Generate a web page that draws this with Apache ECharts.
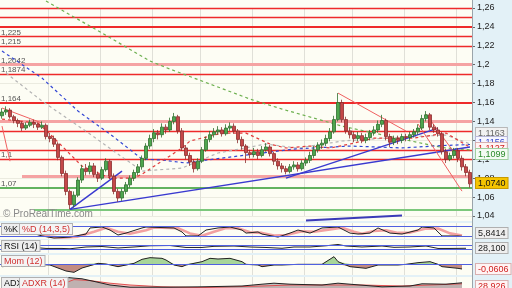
<!DOCTYPE html>
<html><head><meta charset="utf-8">
<script src="https://cdn.jsdelivr.net/npm/echarts@6/dist/echarts.min.js"></script>
<style>html,body{margin:0;padding:0;background:#e3f1f7}#c{width:512px;height:288px}</style>
</head><body><div id="c"></div>
<script>
// ---- price candles (one per bar) ----
const opens=[1.146,1.150,1.152,1.145,1.141,1.138,1.133,1.136,1.139,1.137,
1.134,1.136,1.124,1.122,1.116,1.102,1.085,1.066,1.052,1.062,
1.078,1.090,1.087,1.093,1.084,1.080,1.089,1.098,1.082,1.066,
1.059,1.066,1.073,1.080,1.086,1.092,1.101,1.114,1.122,1.128,
1.126,1.134,1.131,1.140,1.145,1.130,1.112,1.104,1.097,1.090,
1.098,1.110,1.121,1.126,1.129,1.131,1.127,1.133,1.135,1.130,
1.121,1.114,1.107,1.105,1.108,1.104,1.110,1.113,1.106,1.098,
1.093,1.090,1.087,1.092,1.094,1.090,1.096,1.099,1.104,1.110,
1.115,1.117,1.122,1.129,1.142,1.160,1.142,1.130,1.126,1.122,
1.125,1.120,1.123,1.128,1.131,1.137,1.141,1.124,1.118,1.122,
1.120,1.124,1.123,1.126,1.129,1.133,1.143,1.147,1.134,1.131,
1.127,1.108,1.100,1.104,1.109,1.101,1.092,1.086];
const closes=[1.150,1.152,1.145,1.141,1.138,1.133,1.136,1.139,1.137,1.134,
1.136,1.124,1.122,1.116,1.102,1.085,1.066,1.052,1.062,1.078,
1.090,1.087,1.093,1.084,1.080,1.089,1.098,1.082,1.066,1.059,
1.066,1.073,1.080,1.086,1.092,1.101,1.114,1.122,1.128,1.126,
1.134,1.131,1.140,1.145,1.130,1.112,1.104,1.097,1.090,1.098,
1.110,1.121,1.126,1.129,1.131,1.127,1.133,1.135,1.130,1.121,
1.114,1.107,1.105,1.108,1.104,1.110,1.113,1.106,1.098,1.093,
1.090,1.087,1.092,1.094,1.090,1.096,1.099,1.104,1.110,1.115,
1.117,1.122,1.129,1.142,1.160,1.142,1.130,1.126,1.122,1.125,
1.120,1.123,1.128,1.131,1.137,1.141,1.124,1.118,1.122,1.120,
1.124,1.123,1.126,1.129,1.133,1.143,1.147,1.134,1.131,1.127,
1.108,1.100,1.104,1.109,1.101,1.092,1.086,1.074];
const lows=[1.143,1.147,1.143,1.138,1.134,1.130,1.131,1.134,1.133,1.131,
1.132,1.121,1.118,1.113,1.099,1.082,1.062,1.047,1.049,1.060,
1.075,1.083,1.084,1.081,1.076,1.078,1.087,1.079,1.063,1.055,
1.056,1.063,1.070,1.077,1.083,1.089,1.099,1.111,1.118,1.121,
1.123,1.127,1.129,1.137,1.127,1.109,1.100,1.093,1.086,1.088,
1.096,1.108,1.118,1.123,1.126,1.124,1.125,1.130,1.127,1.117,
1.110,1.096,1.101,1.102,1.100,1.102,1.108,1.103,1.094,1.089,
1.086,1.084,1.085,1.089,1.087,1.088,1.093,1.096,1.101,1.107,
1.111,1.114,1.119,1.127,1.140,1.139,1.127,1.122,1.118,1.119,
1.117,1.117,1.120,1.125,1.128,1.134,1.120,1.113,1.115,1.116,
1.117,1.119,1.120,1.123,1.126,1.131,1.140,1.131,1.128,1.124,
1.105,1.096,1.098,1.101,1.097,1.088,1.082,1.070];
const highs=[1.154,1.156,1.154,1.147,1.143,1.140,1.139,1.142,1.142,1.139,
1.140,1.138,1.128,1.125,1.118,1.104,1.088,1.068,1.066,1.081,
1.094,1.095,1.097,1.096,1.087,1.092,1.101,1.100,1.085,1.069,
1.069,1.076,1.083,1.089,1.095,1.104,1.117,1.126,1.132,1.131,
1.138,1.137,1.144,1.149,1.147,1.133,1.115,1.107,1.100,1.101,
1.113,1.124,1.130,1.133,1.135,1.134,1.137,1.139,1.138,1.132,
1.124,1.116,1.110,1.112,1.111,1.114,1.117,1.115,1.108,1.101,
1.096,1.093,1.095,1.098,1.097,1.099,1.102,1.108,1.114,1.118,
1.121,1.126,1.133,1.146,1.170,1.163,1.145,1.133,1.129,1.129,
1.128,1.127,1.131,1.135,1.141,1.147,1.143,1.127,1.125,1.125,
1.127,1.127,1.129,1.132,1.137,1.147,1.151,1.149,1.137,1.134,
1.129,1.111,1.107,1.112,1.112,1.104,1.095,1.089];

// ---- moving averages [barIndex, price] ----
const maGreen=[[10.75,1.2674],[24.5,1.2335],[37,1.2039],[42,1.1954],[62,1.1637],[69.5,1.1531],[84.5,1.1351],[99.5,1.1213],[109.5,1.1125],[117,1.1099]];
const maBlue=[[0,1.2145],[9.5,1.1859],[18.75,1.151],[27,1.1267],[35.25,1.1002],[39.5,1.0992],[46.25,1.096],[52.75,1.1002],[62.75,1.1055],[72.75,1.1108],[87,1.114],[100,1.112],[110,1.1145],[117,1.1156]];
const maGray=[[1.25,1.1912],[10.25,1.1616],[22,1.1267],[28.75,1.1055],[34.5,1.0875],[44.5,1.0907],[53.75,1.1066],[66.25,1.1161],[73.75,1.1118],[84.5,1.1193],[99.5,1.1235],[110.75,1.1256],[117,1.1163]];
const maRed=[[0,1.1425],[8.75,1.1383],[12,1.1267],[19.5,1.0928],[27,1.0801],[32.75,1.0801],[35.25,1.0843],[44.5,1.1119],[47,1.1193],[54.5,1.1277],[61.25,1.1277],[67,1.1161],[71.25,1.1119],[77,1.114],[82,1.1119],[87,1.1161],[93.25,1.1224],[103.25,1.1224],[110.75,1.1277],[117,1.1127]];

// ---- drawn trend lines ----
const trendBlue=[[[17,1.047],[117.4,1.113]],[[17,1.047],[29.5,1.0875]],[[70.75,1.0801],[108.75,1.133]]];
const trendBlueLow=[[76,1.0352],[99.5,1.0405]];
const trendRed=[[[0.25,1.1542],[9.5,1.1383]],[[0,1.1351],[2,1.098]],[[84,1.17],[101.25,1.1298]],[[105.75,1.1478],[117,1.0843]],[[104,1.1373],[115.25,1.0663]]];

// ---- horizontal levels ----
const redLevels=[1.26,1.2505,1.2357,1.225,1.215,1.1874,1.164,1.1256,1.1087,1.0992];
const pinkLevels=[1.2042,1.1415];
const pinkPartial=[[5,1.0822]];
const greenLevels=[1.0695];
const greenPartial=[[8,1.0463]];
const levelLabels={'1.225':'1,225','1.215':'1,215','1.2042':'1,2042','1.1874':'1,1874','1.164':'1,164','1.0992':'1,1','1.0695':'1,07'};

// ---- indicators [barIndex, value] ----
const stochK=[[0,44],[4.5,56],[10.25,19],[13.25,6],[17,12],[20.75,31],[22,69],[24.5,75],[27,56],[29,25],[31.25,37],[34.5,69],[36.25,75],[42.75,69],[44.5,44],[46.25,19],[48.75,19],[51.25,56],[53.75,69],[57,75],[59.5,56],[61.25,37],[63.5,44],[65.25,31],[68.5,12],[71.75,37],[74.25,56],[76.75,37],[80.25,69],[83.5,75],[86.75,37],[88.5,31],[91.75,37],[94.25,69],[96.75,37],[100.25,31],[103.5,56],[105.25,75],[107.75,69],[110.25,19],[113.5,19],[115.25,17]];
const stochD=[[0,42],[5.75,50],[12,15],[15,8],[19,15],[22.5,45],[25.75,70],[29,45],[31.5,33],[35.75,55],[38.25,72],[44,68],[46.5,35],[49.5,20],[52.5,45],[55.75,68],[59,68],[62,42],[65,38],[67.5,22],[70.75,25],[74.5,48],[77.5,45],[81.5,60],[84.5,70],[87.5,45],[90,33],[93.25,50],[95.75,55],[99,38],[102,40],[105.75,65],[108.75,66],[111.5,35],[115.25,22]];
const rsi=[[0,54],[4.5,60],[8.25,48],[10.75,36],[14.5,36],[17,32],[20.75,54],[24.5,60],[29,42],[33.25,54],[37,69],[42,72],[45.75,48],[49.5,48],[53.25,62],[58.25,66],[62,54],[65.75,48],[69.5,38],[73.25,54],[77,54],[80.75,69],[83.5,85],[85.75,66],[89.5,54],[94.5,66],[98.25,50],[102,54],[105.75,66],[109,36],[112,36],[115.75,38]];
const mom=[[0,-0.032],[7.75,-0.004],[12,-0.012],[16.25,-0.084],[17.75,-0.1],[20.25,-0.048],[23.75,0.008],[26.25,0],[28.75,-0.032],[32.75,0.008],[35.25,0.056],[37,0.076],[39.5,0.068],[41.25,0.048],[42.75,-0.012],[44.5,-0.032],[46.25,-0.012],[49.5,0.028],[52,0.068],[53.75,0.06],[57,0.068],[59.5,0.028],[61.25,-0.004],[63.5,-0.012],[65.25,-0.032],[67.75,-0.012],[70.25,-0.012],[73.5,-0.004],[76.75,-0.004],[80.25,-0.004],[82.75,0.088],[84.25,0.028],[86.75,-0.032],[91,-0.052],[93.5,-0.012],[98.5,-0.012],[101,-0.004],[103.5,0.016],[106.75,0.028],[108.5,-0.004],[110.25,-0.032],[113.5,-0.052],[115.25,-0.06]];
const adx=[[9.5,10],[13.25,28],[16.25,53],[19.5,46],[23.25,33],[27,15],[31.5,4],[42,4],[49.5,6],[59.5,10],[64.5,19],[68.25,24],[72,19],[79.5,15],[83.5,24],[87,19],[94.5,6],[102,10],[105.25,21],[110.75,19],[115.25,26]];
const adxr=[[9.5,6],[14.5,19],[18.25,42],[22,37],[27,24],[32,15],[39.5,6],[49.5,2],[64.5,10],[72,15],[82,15],[89.5,15],[99.5,10],[107,15],[115.25,21]];

const priceTicks={min:1.04,max:1.26,step:0.02};
const gridLineIdx=[12,25,38,50,63,76,88,101,114];

const FONT='Liberation Sans, Arial, sans-serif';
const cats=closes.map((_,i)=>String(i));
const candles=closes.map((c,i)=>[opens[i],c,lows[i],highs[i]]);
const momPos=mom.map(p=>[p[0],Math.max(p[1],0)]);
const momNeg=mom.map(p=>[p[0],Math.min(p[1],0)]);
const fmt=v=>v.toFixed(2).replace('.',',').replace(/0$/,'');

const chart=echarts.init(document.getElementById('c'));
const grids=[
  {left:0,right:40,top:8,height:208},
  {left:0,right:40,top:223,height:16},
  {left:0,right:40,top:240,height:13},
  {left:0,right:40,top:255,height:20},
  {left:0,right:40,top:277,height:11}
];
const xAxes=grids.map((g,k)=>({type:'category',gridIndex:k,data:cats,boundaryGap:true,
  axisLine:{show:false},axisTick:{show:false},axisLabel:{show:false},
  splitLine:{show:true,interval:(i)=>gridLineIdx.includes(i),lineStyle:{color:'#e0e0d8',width:1}}}));
const subY=(k,min,max)=>({type:'value',gridIndex:k,position:'right',min:min,max:max,
  axisLine:{show:false},axisTick:{show:false},axisLabel:{show:false},splitLine:{show:false}});
const yAxes=[
  {type:'value',gridIndex:0,position:'right',min:priceTicks.min,max:priceTicks.max,interval:priceTicks.step,
   axisLine:{show:false},axisTick:{show:true,length:3,lineStyle:{color:'#666'}},
   axisLabel:{fontSize:9,color:'#222',margin:5,fontFamily:FONT,formatter:fmt},
   splitLine:{show:true,lineStyle:{color:'#ebebe0'}}},
  subY(1,0,100),subY(2,-20,140),subY(3,-0.132,0.108),subY(4,0,55)
];

const lvlLabel=v=>{const t=levelLabels[String(v)];return t?{show:true,formatter:t,position:'insideStartTop',distance:[1,0],fontSize:8,color:'#555',fontFamily:FONT}:{show:false};};
const markData=[];
redLevels.forEach(v=>markData.push({yAxis:v,lineStyle:{color:'#ee2a2a',width:(v===1.164||v===1.2357)?2:1.3,type:'solid'},label:lvlLabel(v)}));
pinkLevels.forEach(v=>markData.push({yAxis:v,lineStyle:{color:'#f5a3a3',width:3,type:'solid'},label:lvlLabel(v)}));
pinkPartial.forEach(p=>markData.push([{coord:[p[0],p[1]],lineStyle:{color:'#f5a3a3',width:3,type:'solid'},label:{show:false}},{coord:[117,p[1]],x:472}]));
greenLevels.forEach(v=>markData.push({yAxis:v,lineStyle:{color:'#2e9a2e',width:1.5,type:'solid'},label:lvlLabel(v)}));
greenPartial.forEach(p=>markData.push([{coord:[p[0],p[1]],lineStyle:{color:'#7cc87c',width:2,type:'solid'},label:{show:false}},{coord:[117,p[1]],x:472}]));

const lineS=(data,color,width,type,xi,yi,extra)=>Object.assign({type:'line',data:data,xAxisIndex:xi||0,yAxisIndex:yi||0,
  showSymbol:false,symbol:'none',clip:false,silent:true,lineStyle:{color:color,width:width,type:type||'solid'},z:3},extra||{});
const zeroLine={symbol:['none','none'],silent:true,animation:false,label:{show:false},lineStyle:{color:'#5060e0',width:1.2,type:'solid'},data:[{yAxis:0}]};

const series=[
  {type:'candlestick',data:candles,xAxisIndex:0,yAxisIndex:0,barWidth:2.6,z:4,
   itemStyle:{color:'#4ea64e',color0:'#c44848',borderColor:'#2f6e2f',borderColor0:'#8a2f2f',borderWidth:0.8},
   markLine:{symbol:['none','none'],silent:true,animation:false,data:markData,z:2}},
  lineS(maGreen,'#6db04f',1.2,[3,3]),
  lineS(maGray,'#b4b4b4',1.2,[3,3]),
  lineS(maBlue,'#3347d4',1.2,[3,3]),
  lineS(maRed,'#e23a3a',1.2,[3,3]),
  lineS(trendBlueLow,'#3a3ab8',2,'solid')
];
trendBlue.forEach(t=>series.push(lineS(t,'#3a3ad0',1.4,'solid')));
trendRed.forEach(t=>series.push(lineS(t,'#f06060',1,'solid')));
// stochastic
series.push(lineS(stochD,'#f2a0a0',2.6,'solid',1,1));
series.push(lineS(stochK,'#222',1,'solid',1,1,{markLine:{symbol:['none','none'],silent:true,animation:false,label:{show:false},lineStyle:{color:'#5060e0',width:1,type:'solid'},data:[{yAxis:80},{yAxis:20}]}}));
// RSI
series.push(lineS(rsi,'#222',1,'solid',2,2,{markLine:{symbol:['none','none'],silent:true,animation:false,label:{show:false},lineStyle:{color:'#5060e0',width:1,type:'solid'},data:[{yAxis:70},{yAxis:30}]}}));
// Momentum: sign-coloured fills + black line
series.push(lineS(momPos,'#9fd08f',0,'solid',3,3,{areaStyle:{color:'#9fd08f',opacity:0.9,origin:0},z:2}));
series.push(lineS(momNeg,'#b8776c',0,'solid',3,3,{areaStyle:{color:'#b8776c',opacity:0.85,origin:0},z:2}));
series.push(lineS(mom,'#222',1,'solid',3,3,{markLine:zeroLine}));
// ADX
series.push(lineS(adxr,'#e05050',1,'solid',4,4,{areaStyle:{color:'#f4b8b8',opacity:0.8}}));
series.push(lineS(adx,'#222',1,'solid',4,4,{areaStyle:{color:'#a8a8a8',opacity:0.7}}));

const box=(text,x,y,fill,bg,border)=>({type:'text',z:100,x:x,y:y,style:{text:text,fill:fill,font:'9px '+FONT,
  backgroundColor:bg,borderColor:border,borderWidth:border?1:0,padding:[1,2,0,2]}});

const graphic=[
  {type:'rect',z:-10,silent:true,shape:{x:0,y:0,width:472,height:221},style:{fill:'#fdfdf4'}},
  {type:'rect',z:-10,silent:true,shape:{x:0,y:223,width:472,height:16},style:{fill:'#fdfdf4'}},
  {type:'rect',z:-10,silent:true,shape:{x:0,y:240,width:472,height:13},style:{fill:'#fdfdf4'}},
  {type:'rect',z:-10,silent:true,shape:{x:0,y:255,width:472,height:20},style:{fill:'#fdfdf4'}},
  {type:'rect',z:-10,silent:true,shape:{x:0,y:277,width:472,height:11},style:{fill:'#fdfdf4'}},
  {type:'line',z:50,silent:true,shape:{x1:472.5,y1:0,x2:472.5,y2:288},style:{stroke:'#9aa4aa',lineWidth:1}},
  {type:'text',z:50,x:3,y:209,style:{text:'\u00A9 ProRealTime.com',fill:'#8a8a8a',font:'10px '+FONT}},
  box('%K',2,224,'#111','#eeeeee','#b0b0b0'),
  box('%D (14,3,5)',20,224,'#d03030','#f4f4f4','#b0b0b0'),
  box('RSI (14)',2,241,'#111','#eeeeee','#b0b0b0'),
  box('Mom (12)',2,256,'#d03030','#f4f4f4','#b0b0b0'),
  box('ADX',2,278,'#111','#eeeeee','#b0b0b0'),
  box('ADXR (14)',20,278,'#d03030','#f4f4f4','#b0b0b0'),
  box('1,1163',476,128,'#666','#f2f2f2','#b8b8b8'),
  box('1,1156',476,137,'#3344cc','#f6f6ff','#b8b8d8'),
  box('1,1127',476,143,'#d02020','#fff4f4','#d8b0b0'),
  box('1,1099',476,149,'#2a8a2a','#f4fbf4','#9fcf9f'),
  box('1,0740',476,178,'#111','#f5c400','#c89a00'),
  box('5,8414',476,228,'#222','#efefef','#b0b0b0'),
  box('28,100',476,243,'#222','#efefef','#b0b0b0'),
  box('-0,0606',476,264,'#d02020','#fff4f4','#d8b0b0'),
  box('28,926',476,281,'#d02020','#fff4f4','#d8b0b0')
];

chart.setOption({
  animation:false,
  backgroundColor:'#e3f1f7',
  grid:grids,
  xAxis:xAxes,
  yAxis:yAxes,
  graphic:graphic,
  series:series
});
</script></body></html>
